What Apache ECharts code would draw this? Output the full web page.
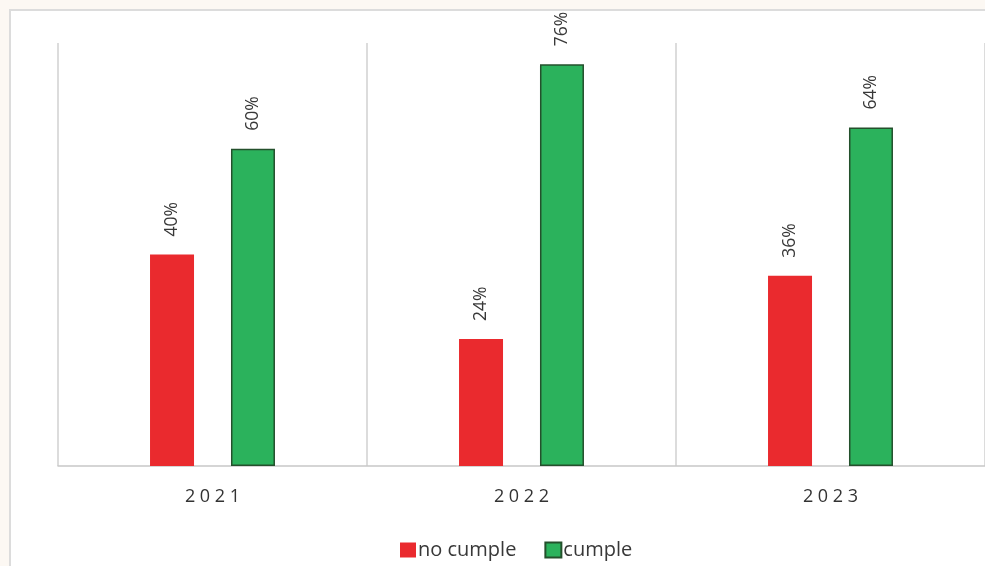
<!DOCTYPE html>
<html><head><meta charset="utf-8">
<script src="https://cdn.jsdelivr.net/npm/echarts@6/dist/echarts.min.js"></script>
<style>html,body{margin:0;padding:0;background:#fcf8f3;}#c{width:985px;height:566px;}</style>
</head><body><div id="c"></div>
<script>
const categories = ['2021', '2022', '2023'];
const seriesNames = ['no cumple', 'cumple'];
const noCumple = [40, 24, 36];
const cumple = [60, 76, 64];

const chart = echarts.init(document.getElementById('c'), null, {renderer: 'canvas'});
const font = '"Open Sans", "Noto Sans", sans-serif';
const labelCfg = {
  show: true, position: 'top', distance: 18, rotate: 90,
  align: 'left', verticalAlign: 'middle',
  formatter: '{c}%', color: '#383838', fontSize: 17.5, fontFamily: font
};
chart.setOption({
  backgroundColor: 'transparent',
  animation: false,
  graphic: [{
    type: 'rect', z: -10, silent: true,
    shape: {x: 10, y: 10, width: 1000, height: 1000},
    style: {fill: '#ffffff', stroke: '#dcdcdc', lineWidth: 2}
  }],
  grid: {left: 58, top: 43, width: 930, height: 423, containLabel: false},
  legend: {
    data: seriesNames, left: 395, top: 535,
    icon: 'rect', itemWidth: 16, itemHeight: 15, itemGap: 28,
    textStyle: {color: '#383838', fontSize: 20, fontFamily: font, padding: [0, 0, 0, -3]}
  },
  xAxis: {
    type: 'category', data: categories, boundaryGap: true,
    axisLine: {show: true, lineStyle: {color: '#c8c8c8', width: 1.5}},
    axisTick: {show: false},
    splitLine: {show: true, lineStyle: {color: '#d0d0d0', width: 1.5}},
    axisLabel: {
      margin: 22, color: '#333333', fontSize: 18, fontFamily: font,
      formatter: v => v.split('').join(' ')
    }
  },
  yAxis: {type: 'value', min: 0, max: 80, show: false, splitLine: {show: false}},
  series: [
    {name: seriesNames[0], type: 'bar', data: noCumple, barWidth: 44, barGap: '84%',
     itemStyle: {color: '#ea2a2e'}, label: labelCfg},
    {name: seriesNames[1], type: 'bar', data: cumple, barWidth: 44,
     itemStyle: {color: '#2bb25c', borderColor: '#24502c', borderWidth: 1.5}, label: labelCfg}
  ]
});
</script></body></html>
